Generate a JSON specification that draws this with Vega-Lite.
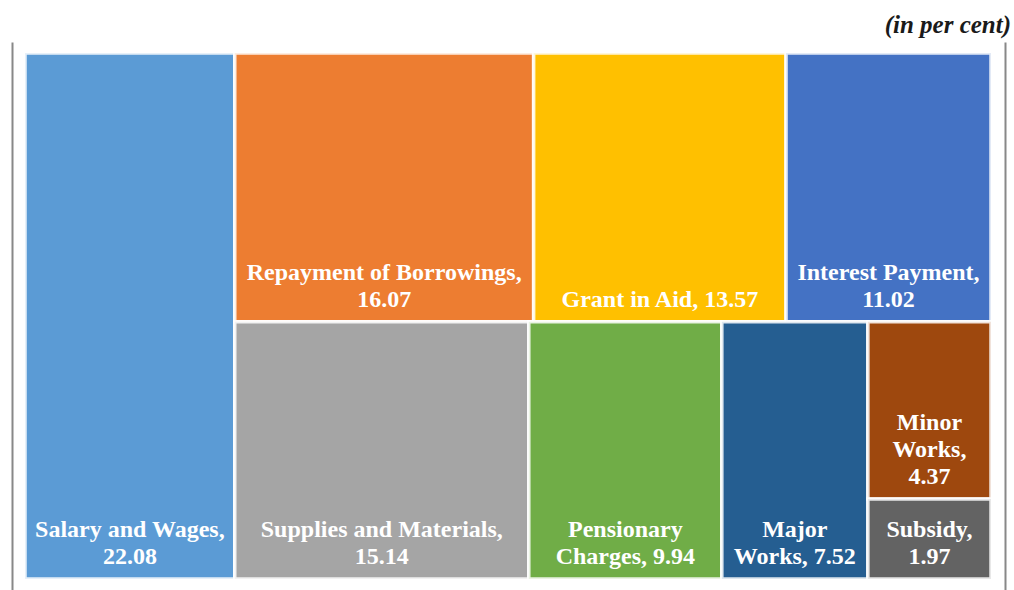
{
  "$schema": "https://vega.github.io/schema/vega-lite/v6.json",
  "width": 993,
  "height": 548,
  "autosize": {"type": "none"},
  "padding": {"left": 12, "right": 9, "top": 42, "bottom": 0},
  "background": "white",
  "title": {
    "text": "(in per cent)",
    "anchor": "end",
    "orient": "top",
    "font": "Liberation Serif",
    "fontSize": 25,
    "fontWeight": "bold",
    "fontStyle": "italic",
    "color": "#1a1a1a",
    "baseline": "alphabetic",
    "offset": 8,
    "dx": 6,
    "dy": 24
  },
  "config": {
    "view": {"stroke": null},
    "axis": {
      "domainColor": "#888888",
      "domainWidth": 2,
      "ticks": false,
      "labels": false,
      "grid": false,
      "title": null
    }
  },
  "data": {
    "values": [
      {"name": "Salary and Wages", "line1": "22.08", "line2": "Salary and Wages,", "line3": null, "value": 22.08, "block": "salary", "slot": 1, "pos": 1},
      {"name": "Repayment of Borrowings", "line1": "16.07", "line2": "Repayment of Borrowings,", "line3": null, "value": 16.07, "block": "top", "slot": 1, "pos": 1},
      {"name": "Grant in Aid", "line1": "Grant in Aid, 13.57", "line2": null, "line3": null, "value": 13.57, "block": "top", "slot": 2, "pos": 1},
      {"name": "Interest Payment", "line1": "11.02", "line2": "Interest Payment,", "line3": null, "value": 11.02, "block": "top", "slot": 3, "pos": 1},
      {"name": "Supplies and Materials", "line1": "15.14", "line2": "Supplies and Materials,", "line3": null, "value": 15.14, "block": "bottom", "slot": 1, "pos": 1},
      {"name": "Pensionary Charges", "line1": "Charges, 9.94", "line2": "Pensionary", "line3": null, "value": 9.94, "block": "bottom", "slot": 2, "pos": 1},
      {"name": "Major Works", "line1": "Works, 7.52", "line2": "Major", "line3": null, "value": 7.52, "block": "bottom", "slot": 3, "pos": 1},
      {"name": "Minor Works", "line1": "4.37", "line2": "Works,", "line3": "Minor", "value": 4.37, "block": "bottom", "slot": 4, "pos": 1},
      {"name": "Subsidy", "line1": "1.97", "line2": "Subsidy,", "line3": null, "value": 1.97, "block": "bottom", "slot": 4, "pos": 2}
    ]
  },
  "transform": [
    {"joinaggregate": [{"op": "sum", "field": "value", "as": "T"}]},
    {"calculate": "datum.block === 'salary' ? datum.value : 0", "as": "sv"},
    {"joinaggregate": [{"op": "sum", "field": "sv", "as": "S"}]},
    {"joinaggregate": [{"op": "sum", "field": "value", "as": "B"}], "groupby": ["block"]},
    {"joinaggregate": [{"op": "sum", "field": "value", "as": "SS"}], "groupby": ["block", "slot"]},
    {"window": [{"op": "sum", "field": "value", "as": "cumSlot"}], "sort": [{"field": "slot", "order": "ascending"}], "groupby": ["block"], "frame": [null, 0], "ignorePeers": false},
    {"window": [{"op": "sum", "field": "value", "as": "cumPos"}], "sort": [{"field": "pos", "order": "ascending"}], "groupby": ["block", "slot"], "frame": [null, 0], "ignorePeers": false},
    {"calculate": "datum.S / datum.T", "as": "fx"},
    {"calculate": "datum.T - datum.S", "as": "R"},
    {"calculate": "datum.block === 'salary' ? 0 : datum.fx + (datum.cumSlot - datum.SS) / datum.B * (1 - datum.fx)", "as": "x0"},
    {"calculate": "datum.block === 'salary' ? datum.fx : datum.fx + datum.cumSlot / datum.B * (1 - datum.fx)", "as": "x1"},
    {"calculate": "datum.block === 'bottom' ? 1 - datum.B / datum.R : 0", "as": "ys"},
    {"calculate": "datum.block === 'salary' ? 1 : datum.B / datum.R", "as": "h"},
    {"calculate": "datum.ys + (datum.cumPos - datum.value) / datum.SS * datum.h", "as": "y0"},
    {"calculate": "datum.ys + datum.cumPos / datum.SS * datum.h", "as": "y1"},
    {"calculate": "(datum.x0 + datum.x1) / 2", "as": "xc"}
  ],
  "resolve": {"axis": {"y": "independent"}},
  "layer": [
    {
      "mark": {"type": "rect", "stroke": "white", "strokeWidth": 3.5, "strokeOpacity": 0.85},
      "encoding": {
        "x": {"field": "x0", "type": "quantitative", "scale": {"domain": [-0.013458, 1.014492], "nice": false, "zero": false}, "axis": null},
        "x2": {"field": "x1"},
        "y": {"field": "y0", "type": "quantitative", "scale": {"domain": [-0.020913, 1.020913], "nice": false, "zero": false, "reverse": true}, "axis": {"orient": "left"}},
        "y2": {"field": "y1"},
        "color": {
          "field": "name",
          "type": "nominal",
          "legend": null,
          "scale": {
            "domain": ["Salary and Wages", "Repayment of Borrowings", "Grant in Aid", "Interest Payment", "Supplies and Materials", "Pensionary Charges", "Major Works", "Minor Works", "Subsidy"],
            "range": ["#5B9BD5", "#ED7D31", "#FFC000", "#4472C4", "#A5A5A5", "#70AD47", "#255E91", "#9E480E", "#636363"]
          }
        }
      }
    },
    {
      "transform": [{"filter": "isValid(datum.line1)"}],
      "mark": {"type": "text", "font": "Liberation Serif", "fontWeight": "bold", "fontSize": 24, "color": "white", "align": "center", "baseline": "alphabetic", "dy": -15},
      "encoding": {
        "x": {"field": "xc", "type": "quantitative", "axis": null},
        "y": {"field": "y1", "type": "quantitative", "axis": {"orient": "right"}},
        "text": {"field": "line1", "type": "nominal"}
      }
    },
    {
      "transform": [{"filter": "isValid(datum.line2)"}],
      "mark": {"type": "text", "font": "Liberation Serif", "fontWeight": "bold", "fontSize": 24, "color": "white", "align": "center", "baseline": "alphabetic", "dy": -42},
      "encoding": {
        "x": {"field": "xc", "type": "quantitative", "axis": null},
        "y": {"field": "y1", "type": "quantitative", "axis": null},
        "text": {"field": "line2", "type": "nominal"}
      }
    },
    {
      "transform": [{"filter": "isValid(datum.line3)"}],
      "mark": {"type": "text", "font": "Liberation Serif", "fontWeight": "bold", "fontSize": 24, "color": "white", "align": "center", "baseline": "alphabetic", "dy": -69},
      "encoding": {
        "x": {"field": "xc", "type": "quantitative", "axis": null},
        "y": {"field": "y1", "type": "quantitative", "axis": null},
        "text": {"field": "line3", "type": "nominal"}
      }
    }
  ]
}
